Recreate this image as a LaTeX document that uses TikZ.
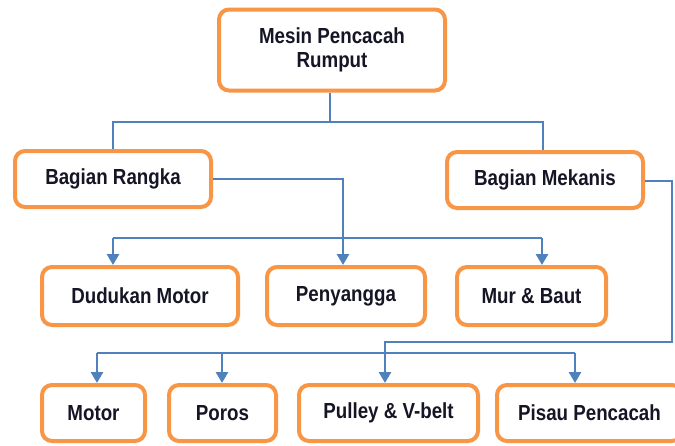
\documentclass[tikz,border=0pt]{standalone}
\usepackage{fontspec}
\setmainfont{Liberation Sans}[FakeStretch=0.86]
\usetikzlibrary{arrows.meta}
\definecolor{boxorange}{HTML}{F79646}
\definecolor{lineblue}{HTML}{4F81BD}
\definecolor{txt}{HTML}{151525}
\begin{document}
\begin{tikzpicture}[x=1pt,y=-1pt,
  box/.style={draw=boxorange, line width=4pt, rounded corners=10pt, fill=white,
    align=center, text=txt, font=\fontsize{21.8}{24}\selectfont\bfseries, inner sep=0pt},
  conn/.style={draw=lineblue, line width=2.7pt},
  arr/.style={conn, -{Triangle[width=12pt,length=11pt]}}]
\useasboundingbox (0,0) rectangle (675,445);
\fill[white] (0,0) rectangle (675,445);

\node[box, minimum width=226pt, minimum height=81pt] (top) at (332,50) {Mesin Pencacah\\Rumput};
\node[box, minimum width=196pt, minimum height=56pt] (rangka) at (113,179) {Bagian Rangka};
\node[box, minimum width=196pt, minimum height=56pt] (mekanis) at (545,180) {Bagian Mekanis};

\node[box, minimum width=196pt, minimum height=58pt] (dudukan) at (140,296) {Dudukan Motor};
\node[box, minimum width=158pt, minimum height=58pt] (penyangga) at (346,296) {Penyangga};
\node[box, minimum width=149pt, minimum height=58pt] (mur) at (531.5,296) {Mur \& Baut};

\node[box, minimum width=103pt, minimum height=56pt] (motor) at (93.5,413) {Motor};
\node[box, minimum width=107pt, minimum height=56pt] (poros) at (222.5,413) {Poros};
\node[box, minimum width=179pt, minimum height=56pt] (pulley) at (388.5,413) {Pulley \& V-belt};
\node[box, minimum width=185pt, minimum height=56pt] (pisau) at (589.5,413) {Pisau Pencacah};

% top level
\coordinate (j) at (330,122);
\draw[conn] (top.south -| j) -- (j);
\draw[conn] (rangka.north) |- (j) -| (mekanis.north -| 543,0);

% Bagian Rangka branch
\coordinate (pv) at (343,0);
\draw[arr] (rangka.east) -| (penyangga.north -| pv);
\coordinate (b1) at (113,238);
\coordinate (b2) at (542,238);
\draw[conn] (b1) -- (b2);
\draw[arr] (b1) -- (dudukan.north -| b1);
\draw[arr] (b2) -- (mur.north -| b2);

% Bagian Mekanis branch
\coordinate (m1) at (672,181);
\coordinate (m2) at (672,342);
\coordinate (m3) at (385,342);
\draw[arr] (mekanis.east |- m1) -- (m1) -- (m2) -- (m3) -- (pulley.north -| m3);
\coordinate (c1) at (97,353);
\coordinate (c2) at (222,353);
\coordinate (c3) at (575,353);
\draw[conn] (c1) -- (c3);
\draw[arr] (c1) -- (motor.north -| c1);
\draw[arr] (c2) -- (poros.north -| c2);
\draw[arr] (c3) -- (pisau.north -| c3);
\end{tikzpicture}
\end{document}
